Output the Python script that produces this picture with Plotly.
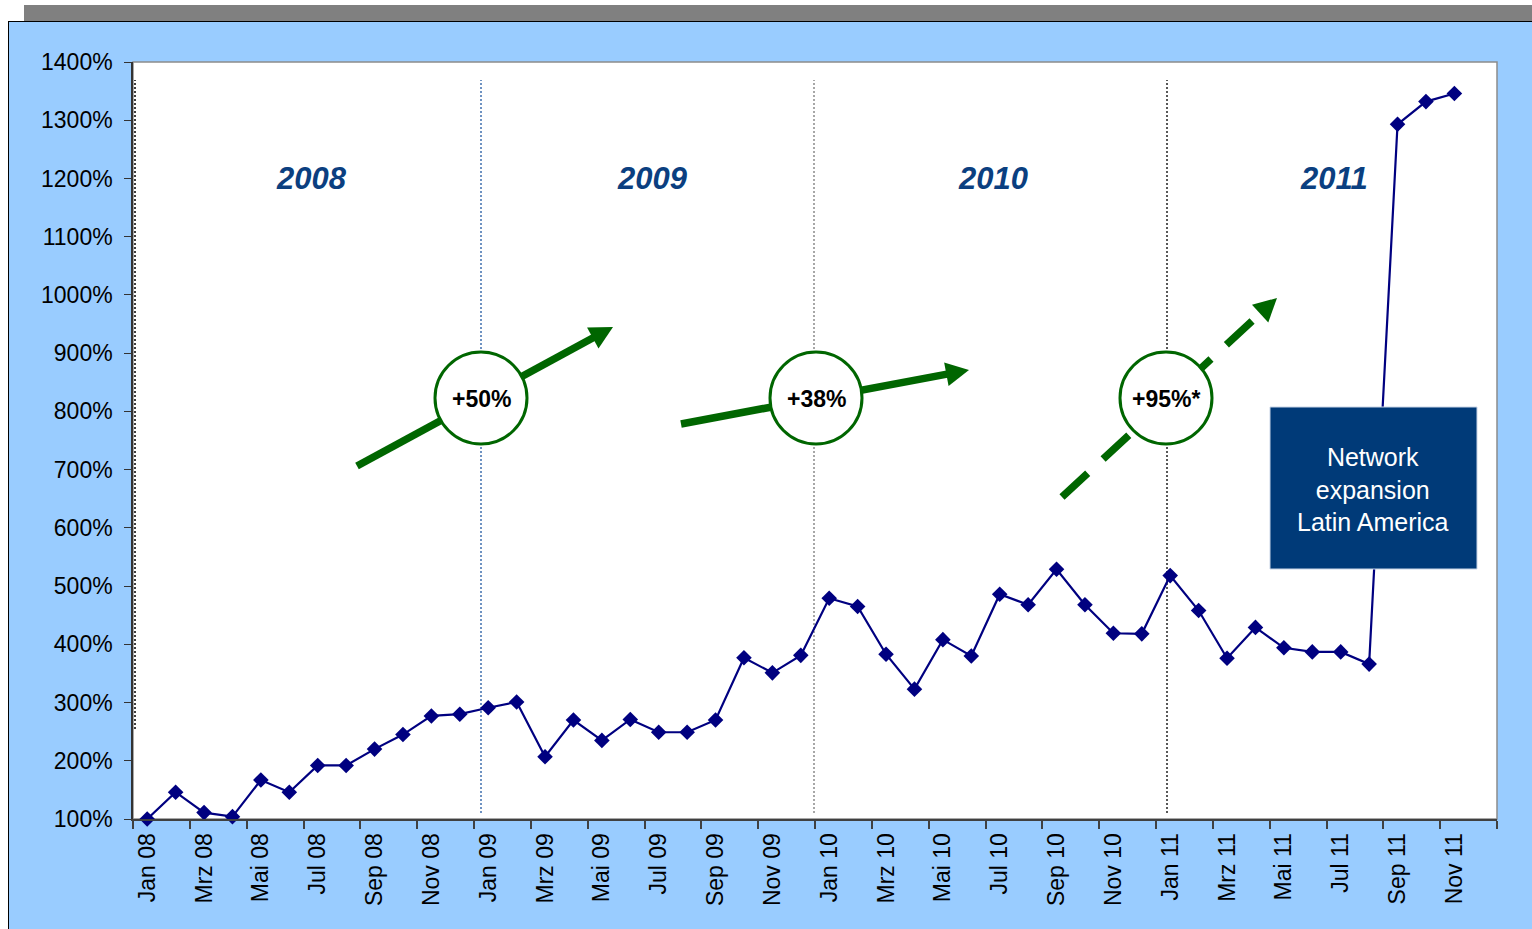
import plotly.graph_objects as go

# ---------------- data ----------------
month_names = ["Jan", "Feb", "Mrz", "Apr", "Mai", "Jun", "Jul", "Aug", "Sep", "Okt", "Nov", "Dez"]
year_suffixes = ["08", "09", "10", "11"]
categories = [f"{m} {y}" for y in year_suffixes for m in month_names]

values_2008 = [100, 146, 111, 104, 167, 146, 192, 192, 220, 245, 277, 280]
values_2009 = [291, 301, 207, 270, 235, 271, 249, 249, 270, 377, 351, 381]
values_2010 = [479, 465, 383, 323, 408, 380, 486, 468, 529, 468, 419, 418]
values_2011 = [518, 458, 376, 429, 394, 387, 387, 366, 1293, 1332, 1346, None]
values = values_2008 + values_2009 + values_2010 + values_2011

year_labels = ["2008", "2009", "2010", "2011"]
growth_labels = ["+50%", "+38%", "+95%*"]
box_text = "Network<br>expansion<br>Latin America"

# ---------------- layout helpers (pixel -> paper) ----------------
W, H = 1532, 929
PL, PR, PT, PB = 133, 1497, 62, 819


def px(x):
    return (x - PL) / (PR - PL)


def py(y):
    return (PB - y) / (PB - PT)


FONT = "Liberation Sans, Arial, sans-serif"
GREEN = "#006600"

fig = go.Figure()
fig.add_trace(go.Scatter(
    x=categories, y=values, mode="lines+markers",
    line=dict(color="#000080", width=2.2),
    marker=dict(symbol="diamond", size=12, color="#000080"),
    cliponaxis=False, showlegend=False, connectgaps=False,
))

shapes = []
# page decorations (white margins, grey bar, black border)
shapes.append(dict(type="rect", xref="paper", yref="paper", x0=px(0), x1=px(W), y0=py(0), y1=py(21.5),
                   fillcolor="white", line=dict(width=0), layer="below"))
shapes.append(dict(type="rect", xref="paper", yref="paper", x0=px(0), x1=px(8), y0=py(0), y1=py(H),
                   fillcolor="white", line=dict(width=0), layer="below"))
shapes.append(dict(type="rect", xref="paper", yref="paper", x0=px(24), x1=px(W), y0=py(5), y1=py(21),
                   fillcolor="#808080", line=dict(width=0), layer="below"))
shapes.append(dict(type="line", xref="paper", yref="paper", x0=px(8), x1=px(W), y0=py(21.5), y1=py(21.5),
                   line=dict(color="#000000", width=1), layer="below"))
shapes.append(dict(type="line", xref="paper", yref="paper", x0=px(8.5), x1=px(8.5), y0=py(21.5), y1=py(H),
                   line=dict(color="#000000", width=1), layer="below"))
# plot-area grey frame
shapes.append(dict(type="rect", xref="paper", yref="paper", x0=0, x1=1, y0=0, y1=1,
                   line=dict(color="#8c8c8c", width=1.5), layer="below"))
# dotted year separators
for xx, col, y0 in [(135, "#000000", 729), (481, "#3F6FAF", 813), (814, "#8a8a8a", 813), (1167, "#222222", 813)]:
    shapes.append(dict(type="line", xref="paper", yref="paper", x0=px(xx), x1=px(xx), y0=py(y0), y1=py(80),
                       line=dict(color=col, width=1.5, dash="2px,2px"), layer="below"))


def arrow(x0, y0, x1, y1, dash="solid"):
    dx, dy = x1 - x0, y1 - y0
    ln = (dx * dx + dy * dy) ** 0.5
    ux, uy = dx / ln, dy / ln
    nx, ny = -uy, ux
    hl, hw = 23, 12
    bx, by = x1 - hl * ux, y1 - hl * uy
    out = [dict(type="line", xref="paper", yref="paper", x0=px(x0), y0=py(y0), x1=px(bx + 2 * ux), y1=py(by + 2 * uy),
                line=dict(color=GREEN, width=7.5, dash=dash), layer="above")]
    pts = [(x1, y1), (bx + hw * nx, by + hw * ny), (bx - hw * nx, by - hw * ny)]
    path = "M " + " L ".join(f"{px(a):.5f},{py(b):.5f}" for a, b in pts) + " Z"
    out.append(dict(type="path", xref="paper", yref="paper", path=path, fillcolor=GREEN,
                    line=dict(width=0), layer="above"))
    return out


shapes += arrow(357, 466, 613, 327)
shapes += arrow(681, 424, 969, 370)
shapes += arrow(1062, 497, 1277, 298, dash="35px,21px")

circle_centers = [(481, 398), (816, 398), (1166, 398)]
R = 46
for cx, cy in circle_centers:
    shapes.append(dict(type="circle", xref="paper", yref="paper", x0=px(cx - R), x1=px(cx + R),
                       y0=py(cy + R), y1=py(cy - R), fillcolor="white",
                       line=dict(color=GREEN, width=3), layer="above"))

# Network expansion box
shapes.append(dict(type="rect", xref="paper", yref="paper", x0=px(1270), x1=px(1477), y0=py(569), y1=py(407),
                   fillcolor="#003A78", line=dict(color="#c8d4e6", width=1), layer="above"))

annotations = []
for lbl, xx in zip(year_labels, [311, 652, 993, 1334]):
    annotations.append(dict(text=f"<b><i>{lbl}</i></b>", xref="paper", yref="paper", x=px(xx), y=py(178),
                            xanchor="center", yanchor="middle", showarrow=False,
                            font=dict(family=FONT, size=31, color="#0B3F80")))
for lbl, (cx, cy) in zip(growth_labels, circle_centers):
    annotations.append(dict(text=f"<b>{lbl}</b>", xref="paper", yref="paper", x=px(cx), y=py(cy + 1),
                            xanchor="center", yanchor="middle", showarrow=False,
                            font=dict(family=FONT, size=23, color="black")))
annotations.append(dict(text=box_text, xref="paper", yref="paper", x=px(1373), y=py(489),
                        xanchor="center", yanchor="middle", showarrow=False,
                        font=dict(family=FONT, size=25, color="white")))

fig.update_layout(
    width=W, height=H,
    margin=dict(l=PL, r=W - PR, t=PT, b=H - PB, pad=0),
    paper_bgcolor="#99CCFF", plot_bgcolor="white",
    font=dict(family=FONT, color="black"),
    shapes=shapes, annotations=annotations, showlegend=False,
    xaxis=dict(type="category", categoryorder="array", categoryarray=categories,
               range=[-0.5, 47.5], tickson="boundaries", dtick=2, tickangle=-90,
               ticks="outside", ticklen=8, tickcolor="#404040", tickwidth=1.5,
               showline=True, linecolor="#404040", linewidth=2, showgrid=False,
               zeroline=False, ticklabelstandoff=3,
               tickfont=dict(family=FONT, size=23, color="black")),
    yaxis=dict(range=[100, 1400], dtick=100, ticksuffix="%", ticks="outside", ticklen=7,
               tickcolor="#333333", showline=True, linecolor="#333333", linewidth=1.5,
               showgrid=False, zeroline=False, ticklabelstandoff=7,
               tickfont=dict(family=FONT, size=23, color="black")),
)

fig.write_html("out.html", config={"displayModeBar": False},
               post_script="document.body.style.margin='0';document.body.style.padding='0';")
